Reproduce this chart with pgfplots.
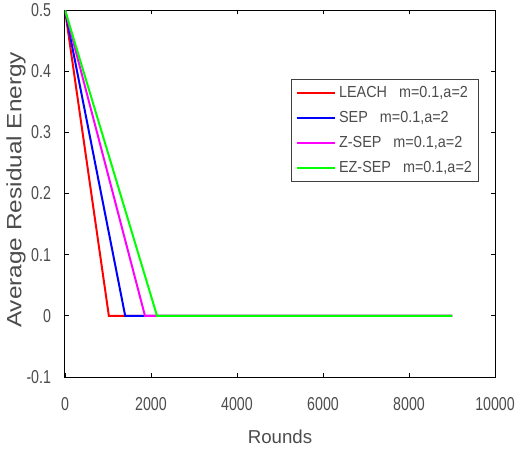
\documentclass[border=0pt]{standalone}
\usepackage{pgfplots}
\pgfplotsset{compat=1.18}
\usepackage{fontspec}
\setmainfont{Liberation Sans}
\newfontfamily\tickfont[FakeStretch=0.76]{Liberation Sans}
\newfontfamily\legfont[FakeStretch=0.9]{Liberation Sans}
\newfontfamily\ylabfont[FakeStretch=1.18]{Liberation Sans}
\definecolor{txt}{gray}{0.3}
\definecolor{cred}{rgb}{1,0,0}
\definecolor{cblue}{rgb}{0,0,1}
\definecolor{cmag}{rgb}{1,0,1}
\definecolor{cgreen}{rgb}{0,1,0}
\begin{document}
\begin{tikzpicture}
\useasboundingbox (-48.75pt,-54.75pt) rectangle (343.5pt,282.75pt);
\begin{axis}[
    scale only axis,
    width=322.5pt, height=275.25pt,
    xmin=0, xmax=10000, ymin=-0.1, ymax=0.5,
    xtick={0,2000,...,10000},
    ytick={-0.1,0,0.1,0.2,0.3,0.4,0.5},
    scaled x ticks=false,
    tick align=inside,
    major tick length=3pt,
    tick style={black, line width=0.6pt},
    x tick label style={yshift=-12pt, /pgf/number format/1000 sep={}},
    y tick label style={xshift=-7pt, /pgf/number format/.cd, fixed, precision=1},
    /pgf/number format/assume math mode=true,
    ticklabel style={font=\tickfont\fontsize{14}{16}\selectfont, text=txt},
    xlabel={Rounds}, ylabel={Average Residual Energy},
    xlabel style={font=\fontsize{14}{16}\selectfont, text=txt,
      at={(axis description cs:0.5,-0.163)}, anchor=center},
    ylabel style={font=\ylabfont\fontsize{15.5}{17}\selectfont, text=txt,
      at={(axis description cs:-0.114,0.51)}, anchor=center},
    axis line style={black, line width=0.75pt},
    legend cell align=left,
    legend style={at={(0.963,0.812)}, anchor=north east,
      font=\legfont\fontsize{12}{14}\selectfont, text=txt,
      draw=black!75, line width=0.75pt, row sep=5pt, inner sep=3pt},
    legend image code/.code={\draw[#1, line width=1.5pt] (0pt,0pt) -- (29pt,0pt);},
  ]
  \addplot[cred, line width=1.5pt] coordinates {(0,0.5) (1020,0) (9000,0)};
  \addplot[cblue, line width=1.5pt] coordinates {(0,0.5) (1400,0) (9000,0)};
  \addplot[cmag, line width=1.5pt] coordinates {(0,0.5) (1860,0) (9000,0)};
  \addplot[cgreen, line width=1.5pt] coordinates {(0,0.5) (2140,0) (9000,0)};
  \legend{{LEACH\ \ \ m=0.1,a=2}, {SEP\ \ \ m=0.1,a=2}, {Z-SEP\ \ \ m=0.1,a=2}, {EZ-SEP\ \ \ m=0.1,a=2}}
\end{axis}
\end{tikzpicture}
\end{document}
